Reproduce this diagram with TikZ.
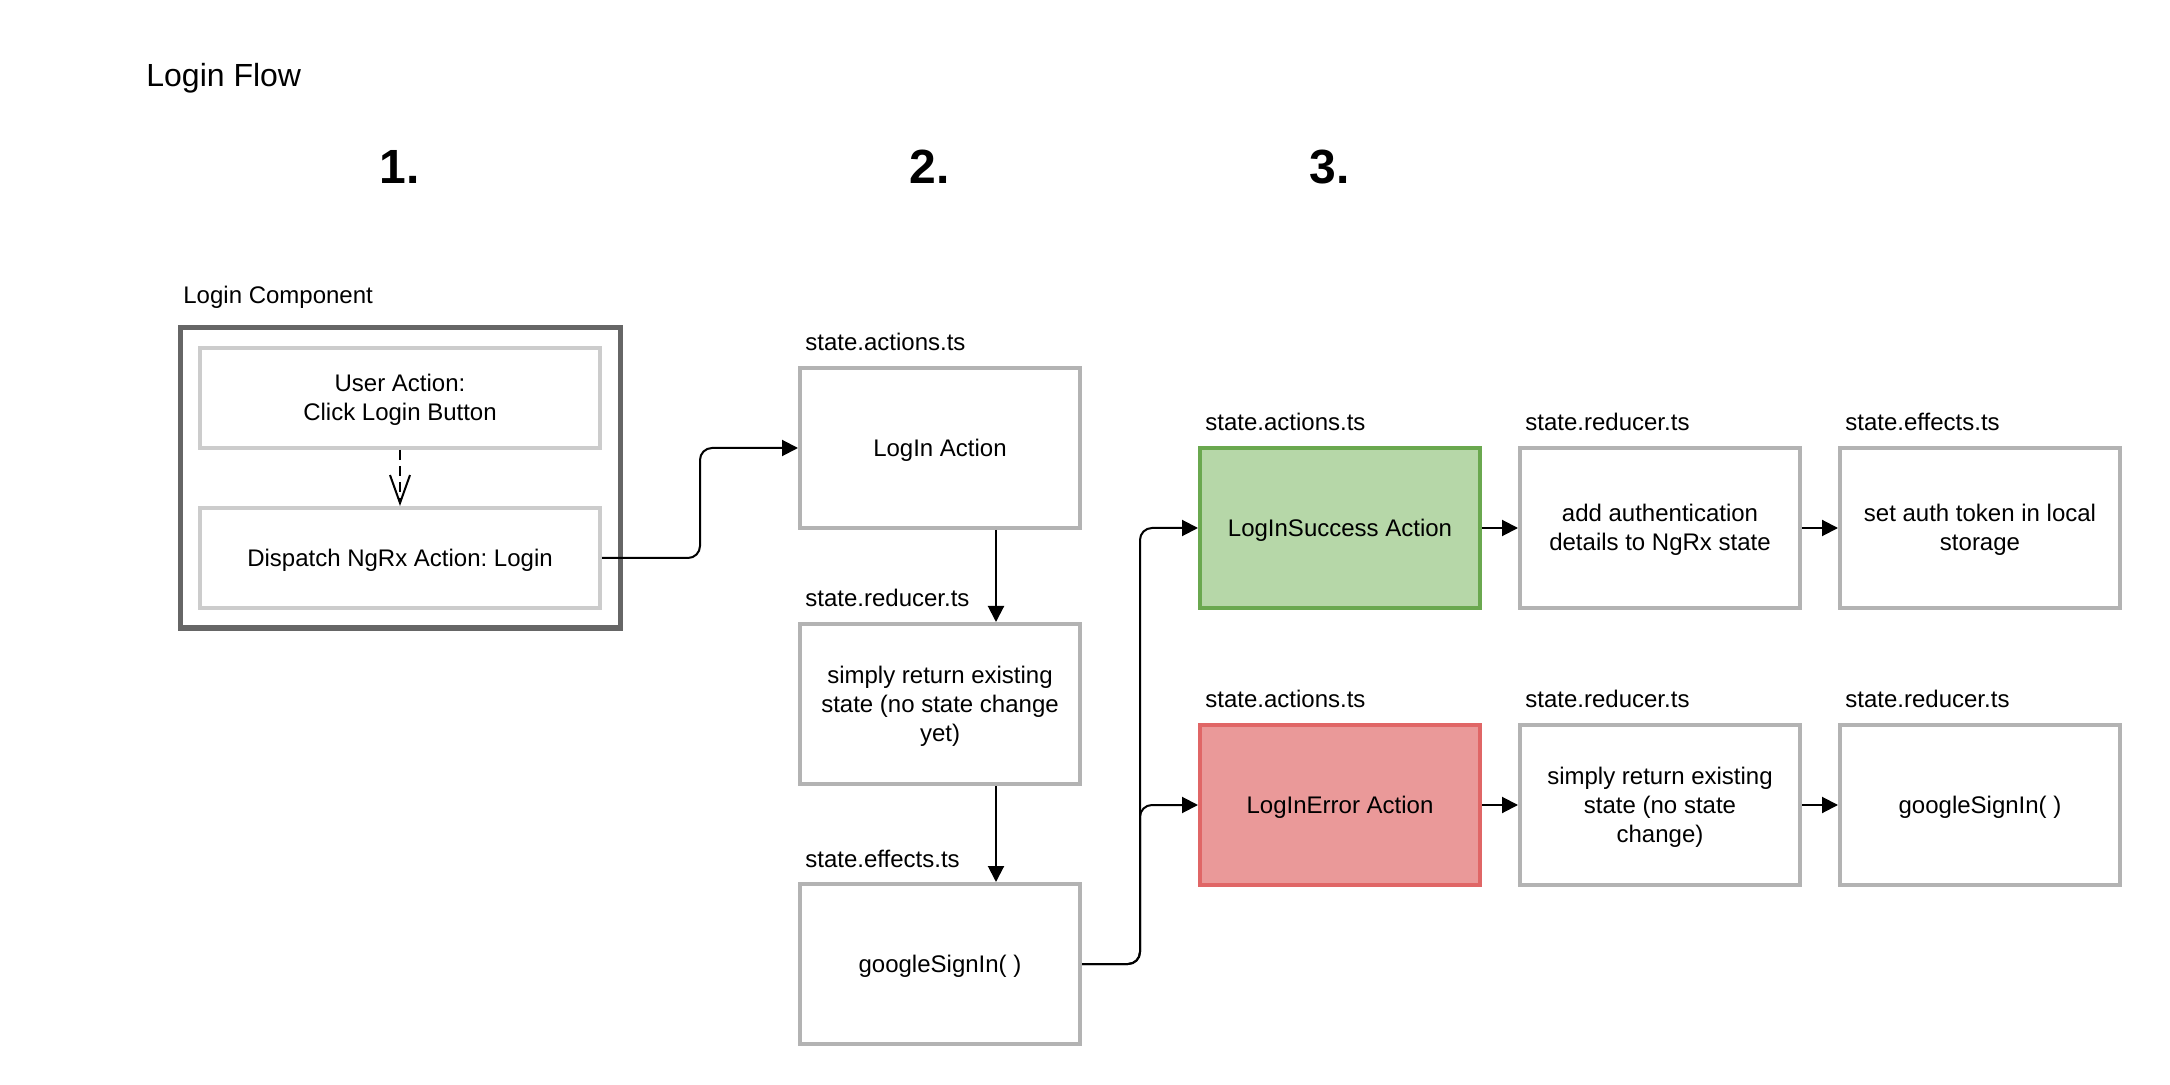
\documentclass[tikz,border=0pt]{standalone}
\usepackage{fontspec}
\setmainfont{Liberation Sans}
\frenchspacing
\usetikzlibrary{arrows.meta}
\definecolor{boxgray}{HTML}{B3B3B3}
\definecolor{innergray}{HTML}{CCCCCC}
\definecolor{outergray}{HTML}{666666}
\definecolor{okfill}{HTML}{B6D7A8}
\definecolor{okline}{HTML}{6AA84F}
\definecolor{errfill}{HTML}{EA9999}
\definecolor{errline}{HTML}{E06666}
\newcommand\bs{\rule[-3.04pt]{0pt}{14.4pt}}
\begin{document}
\begin{tikzpicture}[x=1pt,y=-1pt,
  txt/.style={font=\fontsize{12}{14.4}\selectfont},
  box/.style={txt, draw=boxgray, line width=2pt, fill=white, minimum width=140pt, minimum height=80pt, inner sep=0pt, align=center},
  innerbox/.style={txt, draw=innergray, line width=2pt, fill=white, minimum width=200pt, minimum height=50pt, inner sep=0pt, align=center},
  outerbox/.style={draw=outergray, line width=2.5pt, minimum width=220pt, minimum height=150pt, inner sep=0pt},
  lbl/.style={txt, anchor=base west, inner sep=0pt},
  num/.style={font=\bfseries\fontsize{24}{28}\selectfont, anchor=base, inner sep=0pt},
  conn/.style={draw=black, line width=1pt, -{Triangle[length=8pt,width=8pt]}},
  dconn/.style={draw=black, line width=1pt, dash pattern=on 5pt off 3pt, -{Straight Barb[length=14pt,width=10pt]}}
]
\fill[white] (0,0) rectangle (1085,542.5);
\useasboundingbox (0,0) rectangle (1085,542.5);

% titles
\node[anchor=base west, inner sep=0pt, font=\fontsize{16}{19}\selectfont] (title) at (73,43.3) {Login Flow};
\node[num] (n1) at (200,91.8) {1.};
\node[num] (n2) at (465,91.8) {2.};
\node[num] (n3) at (665,91.8) {3.};

% column 1
\node[lbl] (lcomp) at (91.5,152) {Login Component};
\node[outerbox] (comp) at (200,239) {};
\node[innerbox] (user) at (200,199) {\bs User Action:\\Click Login Button\bs};
\node[innerbox] (disp) at (200,279) {\bs Dispatch NgRx Action: Login\bs};

% column 2
\node[lbl] (la1) at (402.5,175.5) {state.actions.ts};
\node[box] (login) at (470,224) {\bs LogIn Action\bs};
\node[lbl] (lr1) at (402.5,303.5) {state.reducer.ts};
\node[box] (red1) at (470,352) {\bs simply return existing\\state (no state change\\yet)\bs};
\node[lbl] (le1) at (402.5,433.5) {state.effects.ts};
\node[box] (eff1) at (470,482) {\bs googleSignIn( )\bs};

% column 3 - success row
\node[lbl] (la2) at (602.5,215.3) {state.actions.ts};
\node[box, fill=okfill, draw=okline] (succ) at (670,264) {\bs LogInSuccess Action\bs};
\node[lbl] (lr2) at (762.5,215.3) {state.reducer.ts};
\node[box] (red2) at (830,264) {\bs add authentication\\details to NgRx state\bs};
\node[lbl] (le2) at (922.5,215.3) {state.effects.ts};
\node[box] (eff2) at (990,264) {\bs set auth token in local\\storage\bs};

% column 3 - error row
\node[lbl] (la3) at (602.5,353.8) {state.actions.ts};
\node[box, fill=errfill, draw=errline] (err) at (670,402.5) {\bs LogInError Action\bs};
\node[lbl] (lr3) at (762.5,353.8) {state.reducer.ts};
\node[box] (red3) at (830,402.5) {\bs simply return existing\\state (no state\\change)\bs};
\node[lbl] (lr4) at (922.5,353.8) {state.reducer.ts};
\node[box] (gsi) at (990,402.5) {\bs googleSignIn( )\bs};

% connectors
\draw[dconn] (user.south) -- (disp.north);
\coordinate (j1) at (350,251);
\draw[conn, rounded corners=6pt] (disp.east) -| (j1) |- (login.west);
\draw[conn] ([xshift=28pt]login.south) -- ([xshift=28pt]red1.north);
\draw[conn] ([xshift=28pt]red1.south) -- ([xshift=28pt]eff1.north);
\coordinate (j2) at (570,440);
\draw[conn, rounded corners=6pt] (eff1.east) -| (j2) |- (succ.west);
\draw[conn, rounded corners=6pt] (eff1.east) -| (j2) |- (err.west);
\draw[conn] (succ.east) -- (red2.west);
\draw[conn] (red2.east) -- (eff2.west);
\draw[conn] (err.east) -- (red3.west);
\draw[conn] (red3.east) -- (gsi.west);
\end{tikzpicture}
\end{document}
